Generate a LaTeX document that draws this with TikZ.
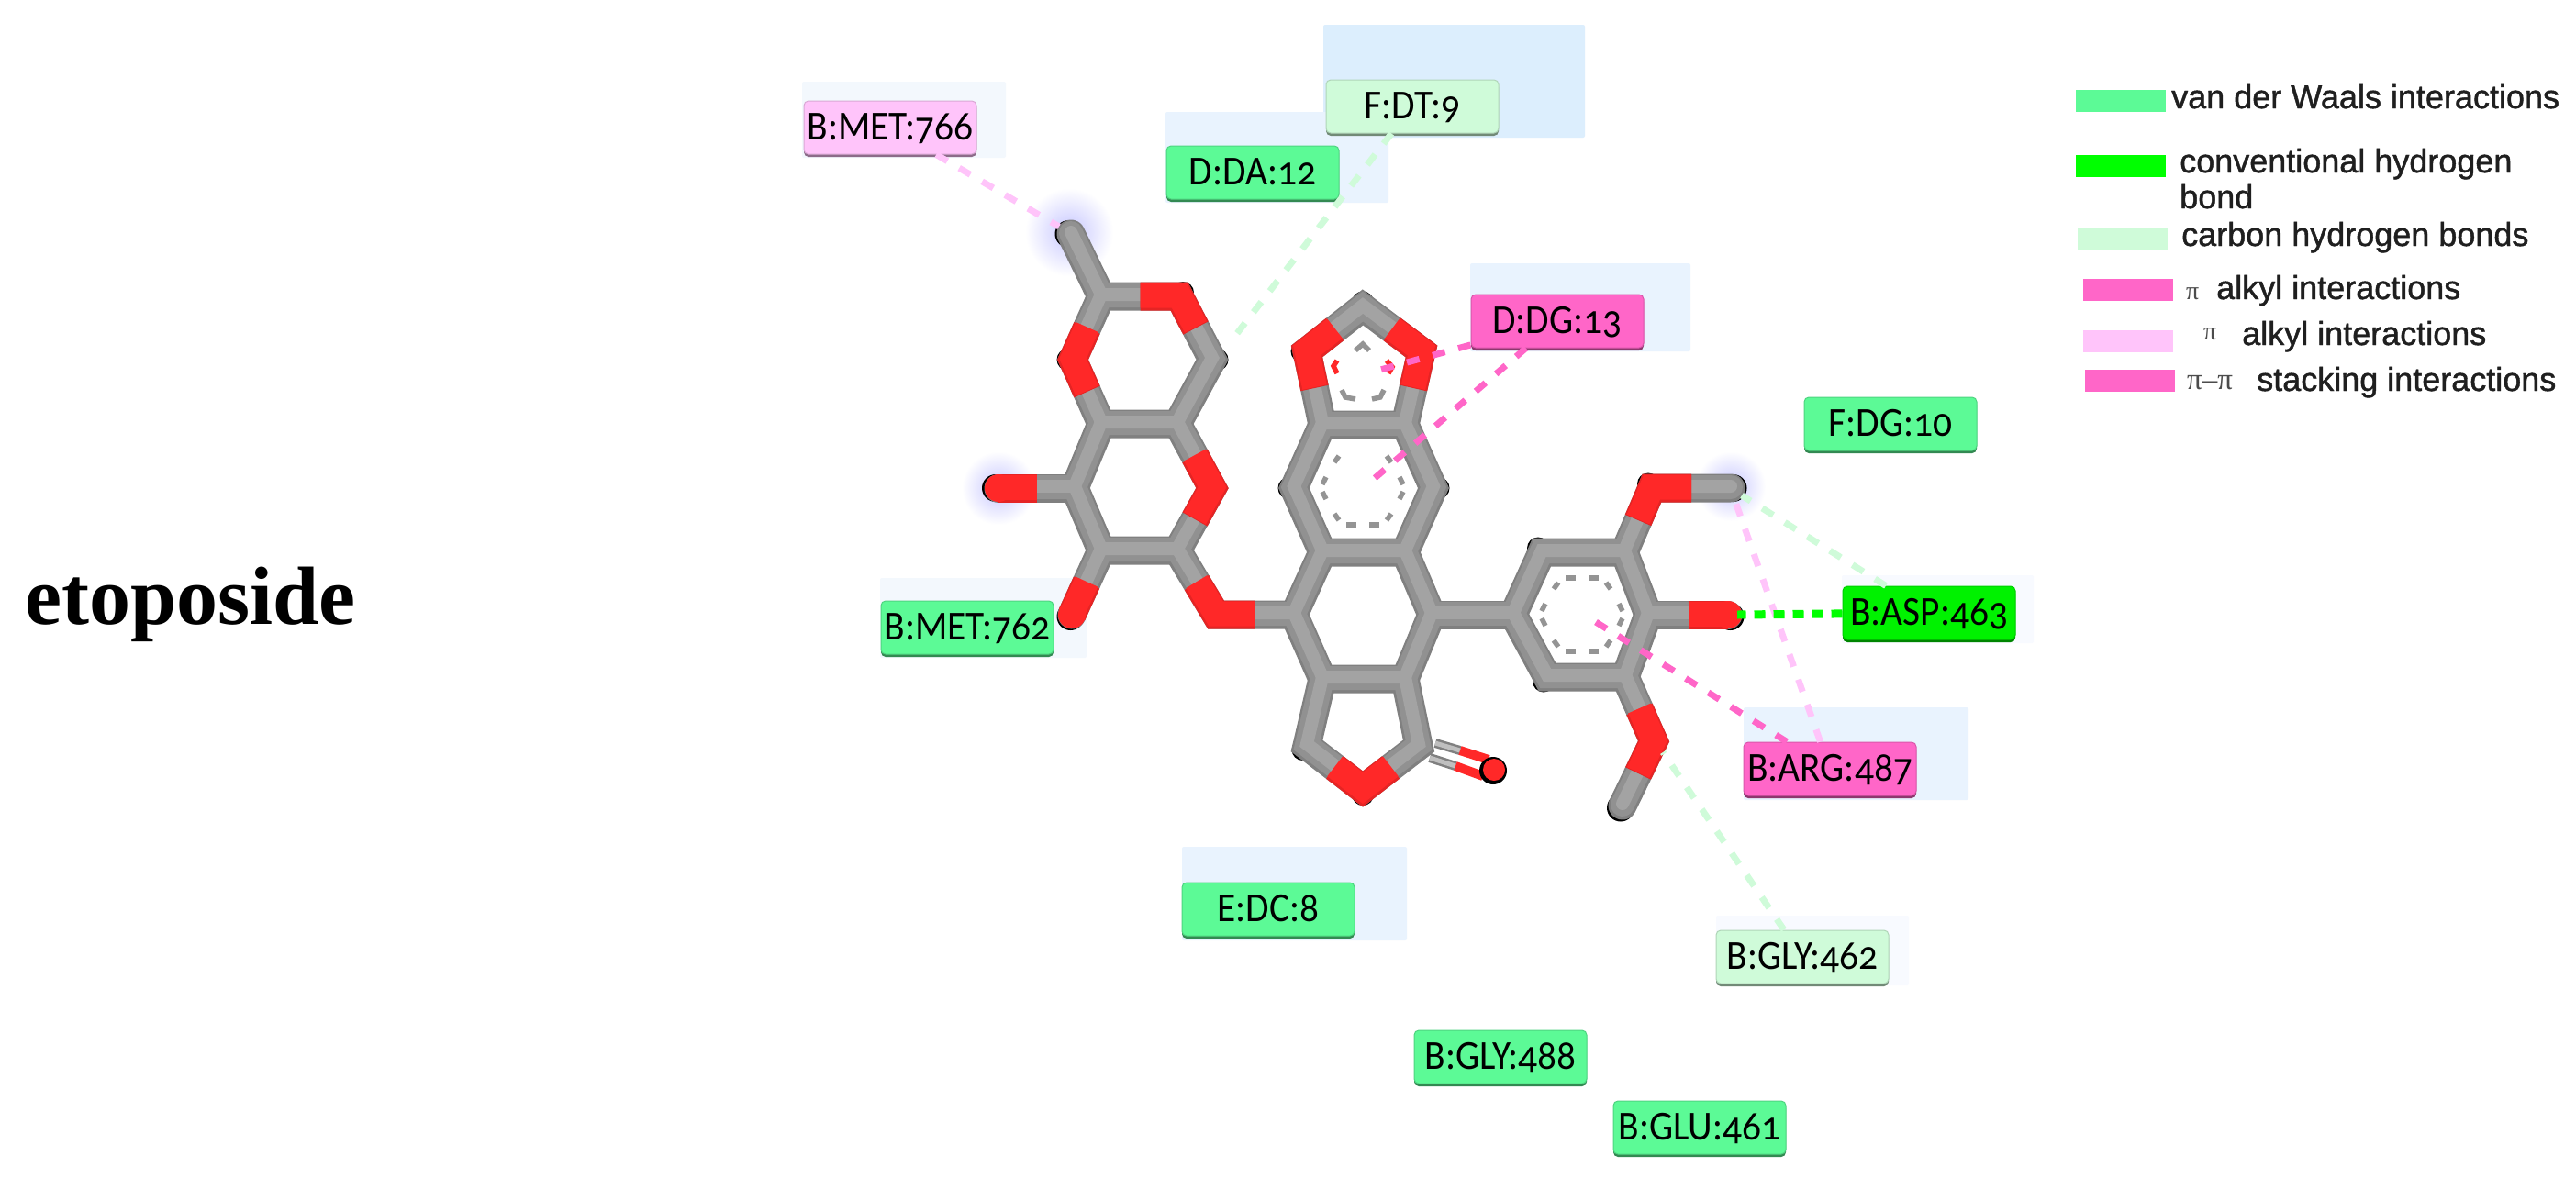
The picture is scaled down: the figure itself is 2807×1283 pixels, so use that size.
\documentclass[tikz,border=0pt]{standalone}
\usepackage{fontspec}
\usetikzlibrary{calc}
\newfontfamily\resfont[Numbers=OldStyle,FakeStretch=0.92]{Carlito}
\newfontfamily\legfont[FakeBold=1.2]{Liberation Sans}
\newfontfamily\capfont{Liberation Serif}
\definecolor{vdw}{HTML}{5CFA96}
\definecolor{chb}{HTML}{CFFBD9}
\definecolor{hb}{HTML}{00F200}
\definecolor{pia}{HTML}{FF66C8}
\definecolor{pib}{HTML}{FFC4FA}
\definecolor{haloA}{HTML}{DCEEFD}
\definecolor{haloB}{HTML}{E9F3FE}
\definecolor{haloC}{HTML}{F3F8FD}
\definecolor{haloD}{HTML}{F8FAFF}
\definecolor{redA}{HTML}{FF2828}
\tikzset{
  res/.style={rectangle,rounded corners=5pt,fill=#1,draw=#1!85!black,line width=1pt,
    preaction={fill=#1!55!black,transform canvas={yshift=-3pt}},
    minimum width=188pt,minimum height=58pt,inner sep=0pt,text=black,
    font=\resfont\fontsize{45}{45}\selectfont,text height=26pt,text depth=0pt},
  halo/.style={fill=#1,draw=none,rounded corners=2pt},
  glow/.style={inner color=blue!22!white,outer color=white,draw=none},
  swatch/.style={rectangle,fill=#1,draw=none,minimum width=98pt,minimum height=24pt,inner sep=0pt,anchor=north west},
  legtext/.style={anchor=base west,inner sep=0pt,text=black!88,font=\legfont\fontsize{36}{36}\selectfont},
  pisym/.style={anchor=base west,inner sep=0pt,text=black!70,font=\capfont\fontsize{28}{28}\selectfont},
  pipair/.style={anchor=base west,inner sep=0pt,text=black!70,font=\capfont\fontsize{33}{33}\selectfont},
  stick/.style={line cap=round,line join=miter,miter limit=3},
  redstick/.style={line cap=butt,line join=miter,miter limit=3},
  arom/.style={line width=5.5pt,color=black!42},
  aromred/.style={line width=5.5pt,color=redA},
  linkpink/.style={line width=7pt,color=pia,dash pattern=on 14pt off 15pt},
  linklight/.style={line width=7pt,color=pib,dash pattern=on 14pt off 15pt},
  linkch/.style={line width=7pt,color=chb,dash pattern=on 14pt off 15pt},
  linkhb/.style={line width=9pt,color=green,dash pattern=on 12pt off 9pt},
}
\newcommand{\skel}[1]{%
  \draw[stick,#1] (me1)--(t1);
  \draw[stick,#1] (t1)--(tO1)--(t2)--(t3)--(t4)--(tO2)--cycle;
  \draw[stick,#1] (t4)--(m5)--(m4)--(m3)--(mO)--(t3);
  \draw[stick,#1] (m5)--(tipL);
  \draw[stick,#1] (m4)--(tipD);
  \draw[stick,#1] (m3)--(bO)--(c1);
  \draw[stick,#1] (c1)--(c2)--(c3)--(c4)--(c5)--(c6)--cycle;
  \draw[stick,#1] (c2)--(u6)--(u1)--(u2)--(u3)--(c3);
  \draw[stick,#1] (u1)--(d1)--(d2)--(d3)--(u2);
  \draw[stick,#1] (c6)--(l1)--(lO)--(l2)--(c5);
  \draw[stick,#1] (c4)--(r1);
  \draw[stick,#1] (r1)--(r2)--(r3)--(r4)--(r5)--(r6)--cycle;
  \draw[stick,#1] (r3)--(oa)--(tipA);
  \draw[stick,#1] (r4)--(tipB);
  \draw[stick,#1] (r5)--(ob)--(tipC);
}
\newcommand{\oxy}[1]{%
  \draw[redstick,#1] ($(t1)!.5!(tO1)$)--(tO1)--($(tO1)!.5!(t2)$);
  \draw[redstick,#1] ($(t1)!.5!(tO2)$)--(tO2)--($(tO2)!.5!(t4)$);
  \draw[redstick,#1] ($(t3)!.5!(mO)$)--(mO)--($(mO)!.5!(m3)$);
  \draw[redstick,#1] ($(m3)!.5!(bO)$)--(bO)--($(bO)!.5!(c1)$);
  \draw[redstick,#1] ($(u1)!.5!(d1)$)--(d1)--($(d1)!.5!(d2)$);
  \draw[redstick,#1] ($(u2)!.5!(d3)$)--(d3)--($(d3)!.5!(d2)$);
  \draw[redstick,#1] ($(l1)!.5!(lO)$)--(lO)--($(lO)!.5!(l2)$);
  \draw[redstick,#1] ($(r3)!.5!(oa)$)--(oa)--($(oa)!.5!(tipA)$);
  \draw[redstick,#1] ($(r5)!.5!(ob)$)--(ob)--($(ob)!.5!(tipC)$);
  \draw[redstick,#1] ($(m5)!.5!(tipL)$)--(tipL);
  \draw[redstick,#1] ($(m4)!.5!(tipD)$)--(tipD);
  \draw[redstick,#1] ($(r4)!.5!(tipB)$)--(tipB);
}
\newcommand{\ocap}[1]{%
  \fill[#1] (tipL) circle (15pt) (tipD) circle (15pt) (tipB) circle (15pt);
}
\newcommand{\tipmark}[3]{\fill[black] ($(#1)+(#2,#3)$) circle (15pt);}
\newcommand{\vertmark}[3]{\fill[black] ($(#1)+(#2,#3)$) circle (12pt);}
% ten dashes of an aromatic ring, seen from its centre
\newcommand{\ringdash}[2]{%
  \foreach \sx in {-1,1}{
    \draw[arom] (#1+\sx*26,#2-35)--(#1+\sx*31,#2-28);
    \draw[arom] (#1+\sx*40,#2-12)--(#1+\sx*44,#2-4);
    \draw[arom] (#1+\sx*44,#2+4)--(#1+\sx*40,#2+12);
    \draw[arom] (#1+\sx*31,#2+28)--(#1+\sx*26,#2+35);
    \draw[arom] (#1+\sx*18,#2+40)--(#1+\sx*7,#2+40);
  }}
\begin{document}
\begin{tikzpicture}[x=1pt,y=-1pt]
\useasboundingbox (0,0) rectangle (2807,1283);
\fill[white] (0,0) rectangle (2807,1283);
% atoms
\coordinate (me1) at (1167,255);
\coordinate (t1) at (1200,323);\coordinate (tO1) at (1285,323);\coordinate (t2) at (1321,392);
\coordinate (t3) at (1283,462);\coordinate (t4) at (1200,462);\coordinate (tO2) at (1169,392);
\coordinate (mO) at (1321,532);\coordinate (m3) at (1283,600);\coordinate (m4) at (1200,600);\coordinate (m5) at (1171,532);
\coordinate (tipL) at (1088,532);\coordinate (tipD) at (1168,670);\coordinate (bO) at (1325,670);
\coordinate (c1) at (1410,670);\coordinate (c2) at (1441,602);\coordinate (c3) at (1531,602);
\coordinate (c4) at (1560,670);\coordinate (c5) at (1531,740);\coordinate (c6) at (1441,740);
\coordinate (u1) at (1441,463);\coordinate (u2) at (1531,463);\coordinate (u3) at (1562,532);\coordinate (u6) at (1410,532);
\coordinate (d1) at (1424,383);\coordinate (d2) at (1485,335);\coordinate (d3) at (1549,383);
\coordinate (l1) at (1424,813);\coordinate (lO) at (1485,860);\coordinate (l2) at (1546,813);
\coordinate (r1) at (1649,670);\coordinate (r2) at (1680,602);\coordinate (r3) at (1770,602);
\coordinate (r4) at (1796,670);\coordinate (r5) at (1771,738);\coordinate (r6) at (1686,738);
\coordinate (oa) at (1800,532);\coordinate (tipA) at (1886,532);\coordinate (tipB) at (1883,670);
\coordinate (ob) at (1802,808);\coordinate (tipC) at (1768,878);
\coordinate (coA) at (1564,810);\coordinate (coAm) at (1591,818);\coordinate (coAe) at (1622,828);
\coordinate (coB) at (1558,826);\coordinate (coBm) at (1586,835);\coordinate (coBe) at (1616,846);
\coordinate (coT) at (1627,840);
% connector ends
\coordinate (endMe) at (1154,247);
\coordinate (endCH) at (1339,375);
\coordinate (endPa) at (1497,405);
\coordinate (endPb) at (1497,522);
\coordinate (endPc) at (1739,678);
\coordinate (endLp) at (1891,547);
\coordinate (endCg) at (1898,540);
\coordinate (endHb) at (1893,670);
\coordinate (endGl) at (1812,820);
% halos
\fill[halo=haloC] (874,89) rectangle (1096,172);
\fill[halo=haloA] (1442,27) rectangle (1727,150);
\fill[halo=haloB] (1270,122) rectangle (1513,221);
\fill[halo=haloB] (1602,287) rectangle (1842,383);
\fill[halo=haloC] (959,630) rectangle (1184,717);
\fill[halo=haloB] (1900,771) rectangle (2145,872);
\fill[halo=haloB] (1288,923) rectangle (1533,1025);
\fill[halo=haloD] (2007,627) rectangle (2216,701);
\fill[halo=haloD] (1870,998) rectangle (2080,1074);
% glows
\shade[glow] (1165,253) circle (48pt);
\shade[glow] (1088,532) circle (40pt);
\shade[glow] (1886,530) circle (38pt);
% black rims of the sticks
\tipmark{me1}{-2.5}{0}
\tipmark{tipL}{-3}{0}
\tipmark{tipD}{-1.5}{2}
\tipmark{tipB}{2.5}{2}
\tipmark{tipA}{2.5}{0}
\tipmark{tipC}{-2}{2.5}
\vertmark{d2}{0}{-5.5}
\vertmark{d1}{-5.5}{0}
\vertmark{tO2}{-5.5}{0}
\vertmark{t2}{5.5}{0}
\vertmark{tO1}{4}{-4}
\vertmark{u6}{-5.5}{0}
\vertmark{u3}{5.5}{0}
\vertmark{l1}{-4.5}{4}
\vertmark{lO}{0}{6}
\vertmark{r2}{-4}{-4.5}
\vertmark{r6}{-4}{4.5}
\vertmark{oa}{-4}{-4.5}
% sticks
\skel{line width=31pt,color=black!50}
\skel{line width=26pt,color=black!43,transform canvas={yshift=1pt}}
\skel{line width=14pt,color=black!36,transform canvas={yshift=2pt}}
\oxy{line width=31pt,color=redA!90!black}
\oxy{line width=27pt,color=redA,transform canvas={yshift=1pt}}
\ocap{redA}
% carbonyl
\draw[line width=10pt,color=black!50] (coA)--(coAm);
\draw[line width=10pt,color=black!50] (coB)--(coBm);
\draw[line width=5pt,color=black!25] (coA)--(coAm);
\draw[line width=5pt,color=black!25] (coB)--(coBm);
\draw[line width=10pt,color=redA] (coAm)--(coAe);
\draw[line width=10pt,color=redA] (coBm)--(coBe);
\fill[black] (coT) circle (15pt);
\fill[redA] ($(coT)+(1,-1)$) circle (12pt);
% aromatic dashes
\ringdash{1485}{532}
\ringdash{1724}{670}
\draw[arom] (1706,630)--(1717,630) (1731,630)--(1742,630);
\draw[arom] (1477,382)--(1485,375)--(1492,382);
\draw[aromred] (1457,393)--(1453,399)--(1457,407);
\draw[aromred] (1511,393)--(1517,400)--(1513,407);
\draw[arom] (1462,425)--(1466,433)--(1477,435);
\draw[arom] (1508,425)--(1504,433)--(1495,435);
% residues
\node[res=pib] (met766) at (970,139) {B:MET:766};
\node[res=vdw] (dda12) at (1365,188) {D:DA:12};
\node[res=chb] (fdt9) at (1539,116) {F:DT:9};
\node[res=pia] (ddg13) at (1697,350) {D:DG:13};
\node[res=vdw] (fdg10) at (2060,462) {F:DG:10};
\node[res=vdw] (met762) at (1054,684) {B:MET:762};
\node[res=hb] (asp463) at (2102,668) {B:ASP:463};
\node[res=pia] (arg487) at (1994,838) {B:ARG:487};
\node[res=vdw] (edc8) at (1382,991) {E:DC:8};
\node[res=chb] (gly462) at (1964,1043) {B:GLY:462};
\node[res=vdw] (gly488) at (1635,1152) {B:GLY:488};
\node[res=vdw] (glu461) at (1852,1229) {B:GLU:461};
% connectors
\draw[linklight] (met766)--(endMe);
\draw[linkch] (fdt9)--(endCH);
\draw[linkpink] (ddg13)--(endPa);
\draw[linkpink] (ddg13)--(endPb);
\draw[linkpink] (arg487)--(endPc);
\draw[linklight] (arg487)--(endLp);
\draw[linkch] (asp463)--(endCg);
\draw[linkch] (gly462)--(endGl);
\draw[linkhb] (asp463)--(endHb);
% caption
\node[anchor=base west,inner sep=0pt,font=\capfont\bfseries\fontsize{90}{90}\selectfont] (cap) at (27,680) {etoposide};
% legend
\node[swatch=vdw] (sw1) at (2262,98) {};
\node[swatch=green] (sw2) at (2262,169) {};
\node[swatch=chb] (sw3) at (2264,248) {};
\node[swatch=pia] (sw4) at (2270,304) {};
\node[swatch=pib] (sw5) at (2270,360) {};
\node[swatch=pia] (sw6) at (2272,403) {};
\node[legtext] (lt1) at (2366,118) {van der Waals interactions};
\node[legtext] (lt2) at (2375,188) {conventional hydrogen};
\node[legtext] (lt2b) at (2375,227) {bond};
\node[legtext] (lt3) at (2377,268) {carbon hydrogen bonds};
\node[pisym] (pi4) at (2382,326) {π};
\node[legtext] (lt4) at (2415,326) {alkyl interactions};
\node[pisym] (pi5) at (2401,370) {π};
\node[legtext] (lt5) at (2443,376) {alkyl interactions};
\node[pipair] (pi6) at (2383,424) {π–π};
\node[legtext] (lt6) at (2459,426) {stacking interactions};
\end{tikzpicture}
\end{document}
